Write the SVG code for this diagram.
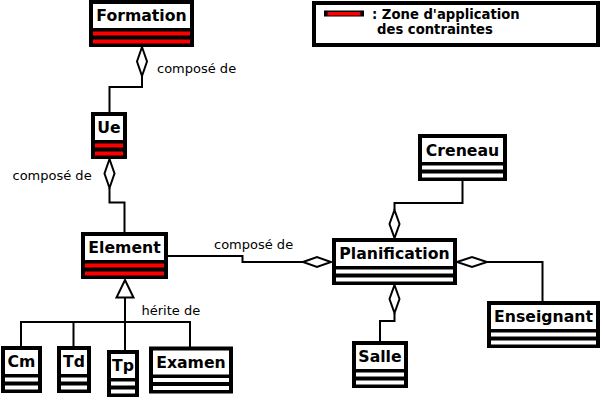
<svg xmlns="http://www.w3.org/2000/svg" width="602" height="400" viewBox="0 0 602 400">
<style>
.b{fill:#000}
.n{fill:#fff}
.r{fill:#f00}
.w{fill:#fff}
.t{font-family:"DejaVu Sans",sans-serif;font-weight:bold;font-size:15.7px;fill:#000;text-anchor:middle}
.l{font-family:"DejaVu Sans",sans-serif;font-size:13px;fill:#000}
.lg{font-family:"DejaVu Sans",sans-serif;font-weight:bold;font-size:13.2px;fill:#000}
.c{fill:none;stroke:#000;stroke-width:2}
.d{fill:#fff;stroke:#000;stroke-width:2}
</style>
<rect width="602" height="400" fill="#fff"/>
<g id="legend">
<rect x="314" y="3" width="284" height="42" fill="#fff" stroke="#000" stroke-width="4"/>
<rect x="324" y="10.5" width="40" height="6" class="b"/>
<rect x="327.5" y="12" width="33" height="3.5" class="r"/>
<text x="372" y="19" class="lg">: Zone d'application</text>
<text x="377" y="34" class="lg">des contraintes</text>
</g>
<g id="connectors">
<path class="c" d="M142,76 V87 H109.5 V112"/>
<path class="d" d="M142,47 L147,61.5 L142,76 L137,61.5 Z"/>
<path class="c" d="M109.5,188 V202.5 H124.5 V232"/>
<path class="d" d="M109.5,159 L114.5,173.5 L109.5,188 L104.5,173.5 Z"/>
<path class="c" d="M168,256 H242.5 V262 H303"/>
<path class="d" d="M303,262 L317,257 L331,262 L317,267 Z"/>
<path class="c" d="M462.5,181 V203 H394.5 V210"/>
<path class="d" d="M394.5,210 L399.5,224 L394.5,238 L389.5,224 Z"/>
<path class="c" d="M487,262 H542.5 V301"/>
<path class="d" d="M457,262 L472,257 L487,262 L472,267 Z"/>
<path class="c" d="M394.5,313 V321 H380 V341"/>
<path class="d" d="M394.5,285 L399.5,299 L394.5,313 L389.5,299 Z"/>
<path class="c" d="M125,297.5 V350 M21,322 H190 M21,321 V346 M73.5,321 V346 M190,321 V347"/>
<path class="d" d="M125,280 L133.5,297.5 L116.5,297.5 Z"/>
<text x="157" y="73" class="l">composé de</text>
<text x="12.5" y="180" class="l">composé de</text>
<text x="214" y="249" class="l">composé de</text>
<text x="141.5" y="315" class="l">hérite de</text>
</g>
<g id="Formation">
<rect x="89" y="0" width="105" height="47" class="b"/>
<rect x="93" y="4" width="97" height="24" class="n"/>
<rect x="93" y="31.5" width="97" height="4" class="r"/>
<rect x="93" y="39.5" width="97" height="4" class="r"/>
<text x="141.5" y="21" class="t">Formation</text>
</g>
<g id="Ue">
<rect x="91" y="112" width="36" height="47" class="b"/>
<rect x="95" y="116" width="28" height="24" class="n"/>
<rect x="95" y="143.5" width="28" height="4" class="r"/>
<rect x="95" y="151.5" width="28" height="4" class="r"/>
<text x="109" y="133" class="t">Ue</text>
</g>
<g id="Element">
<rect x="81" y="232" width="87" height="47" class="b"/>
<rect x="85" y="236" width="79" height="24" class="n"/>
<rect x="85" y="263.5" width="79" height="4" class="r"/>
<rect x="85" y="271.5" width="79" height="4" class="r"/>
<text x="124.5" y="253" class="t">Element</text>
</g>
<g id="Creneau">
<rect x="418" y="134" width="89" height="47" class="b"/>
<rect x="422" y="138" width="81" height="24" class="n"/>
<rect x="422" y="165.5" width="81" height="4" class="w"/>
<rect x="422" y="173.5" width="81" height="4" class="w"/>
<text x="462.5" y="156" class="t">Creneau</text>
</g>
<g id="Planification">
<rect x="332" y="238" width="125" height="47" class="b"/>
<rect x="336" y="242" width="117" height="24" class="n"/>
<rect x="336" y="269.5" width="117" height="4" class="w"/>
<rect x="336" y="277.5" width="117" height="4" class="w"/>
<text x="394.5" y="259" class="t">Planification</text>
</g>
<g id="Enseignant">
<rect x="487" y="301" width="113" height="47" class="b"/>
<rect x="491" y="305" width="105" height="24" class="n"/>
<rect x="491" y="332.5" width="105" height="4" class="w"/>
<rect x="491" y="340.5" width="105" height="4" class="w"/>
<text x="543.5" y="322" class="t">Enseignant</text>
</g>
<g id="Salle">
<rect x="352" y="341" width="56" height="47" class="b"/>
<rect x="356" y="345" width="48" height="24" class="n"/>
<rect x="356" y="372.5" width="48" height="4" class="w"/>
<rect x="356" y="380.5" width="48" height="4" class="w"/>
<text x="380" y="362" class="t">Salle</text>
</g>
<g id="Cm">
<rect x="1" y="346" width="41" height="47" class="b"/>
<rect x="5" y="350" width="33" height="24" class="n"/>
<rect x="5" y="377.5" width="33" height="4" class="w"/>
<rect x="5" y="385.5" width="33" height="4" class="w"/>
<text x="21.5" y="367" class="t">Cm</text>
</g>
<g id="Td">
<rect x="57" y="346" width="34" height="47" class="b"/>
<rect x="61" y="350" width="26" height="24" class="n"/>
<rect x="61" y="377.5" width="26" height="4" class="w"/>
<rect x="61" y="385.5" width="26" height="4" class="w"/>
<text x="74" y="367" class="t">Td</text>
</g>
<g id="Tp">
<rect x="107" y="350" width="32" height="47" class="b"/>
<rect x="111" y="354" width="24" height="24" class="n"/>
<rect x="111" y="381.5" width="24" height="4" class="w"/>
<rect x="111" y="389.5" width="24" height="4" class="w"/>
<text x="123" y="371" class="t">Tp</text>
</g>
<g id="Examen">
<rect x="149" y="346.5" width="84" height="47" class="b"/>
<rect x="153" y="350.5" width="76" height="24" class="n"/>
<rect x="153" y="378" width="76" height="4" class="w"/>
<rect x="153" y="386" width="76" height="4" class="w"/>
<text x="191" y="367.5" class="t">Examen</text>
</g>
</svg>
